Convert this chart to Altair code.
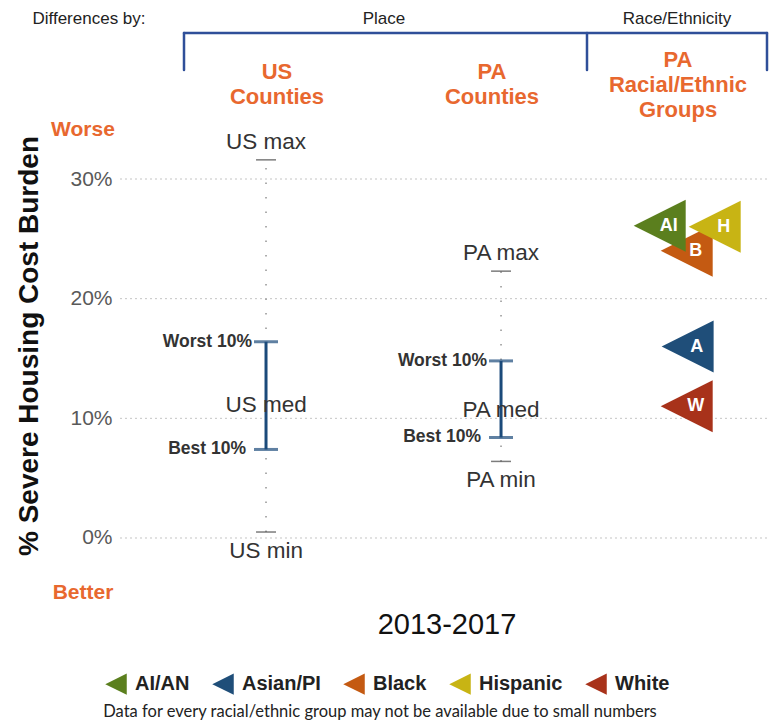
import altair as alt
import pandas as pd

# ---------------- data ----------------
place_cols = ["US", "PA"]
max_vals = [31.6, 22.3]
worst10_vals = [16.4, 14.8]
med_vals = [11.1, 10.7]
best10_vals = [7.4, 8.4]
min_vals = [0.5, 6.4]

groups = ["AI/AN", "Asian/PI", "Black", "Hispanic", "White"]
group_abbr = ["AI", "A", "B", "H", "W"]
group_vals = [26.1, 16.0, 24.0, 26.0, 11.0]
group_colors = ["#5B7F1E", "#1F4E79", "#C45A12", "#C8B414", "#A8321A"]

y_ticks = [0, 10, 20, 30]
period = "2013-2017"

# ---------------- layout ----------------
FONT = "Liberation Sans"
ORANGE = "#E8682F"
NAVY = "#1B4A7A"
BRACKET = "#2F4F99"
TRI = "M-1,0L1,-1L1,1Z"
W, H = 764, 717
col_pos = {"US": 1.0, "PA": 2.0}
race_pos = 2.79
race_nudge = {"AI/AN": -0.115, "Hispanic": 0.119, "Asian/PI": 0.004}
draw_order = ["Black", "AI/AN", "Hispanic", "Asian/PI", "White"]

X = alt.Scale(domain=[-0.0979, 3.153], nice=False, zero=False)
Y = alt.Scale(domain=[-15.627, 44.29], nice=False, zero=False)
yaxis = alt.Axis(values=y_ticks, labelExpr="datum.value + '%'", grid=False,
                 domain=False, ticks=False, title=None, offset=-112,
                 labelPadding=8, labelFontSize=21, labelColor="#595959",
                 labelFont=FONT)


def xenc(f="x"):
    return alt.X(f, type="quantitative", scale=X, axis=None)


def yenc(f):
    return alt.Y(f, type="quantitative", scale=Y, axis=yaxis)


def label(text, px, py, size, color="#222", weight="normal", align="center",
          angle=0, font=FONT, line_height=None):
    kw = dict(x=px - 8, y=py - 8, fontSize=size, color=color, fontWeight=weight,
              align=align, baseline="middle", font=font, lineBreak="\n")
    if angle:
        kw["angle"] = angle
    if line_height:
        kw["lineHeight"] = line_height
    return alt.Chart(pd.DataFrame({"t": [text]})).mark_text(**kw).encode(text="t:N")


def hline(x1, x2, yv):
    return alt.Chart(pd.DataFrame({"a": [0]})).mark_rule(
        color=BRACKET, strokeWidth=2.5, strokeCap="round").encode(
        x=alt.value(x1 - 8), x2=alt.value(x2 - 8), y=alt.value(yv - 8))


def vline(xv, y1, y2):
    return alt.Chart(pd.DataFrame({"a": [0]})).mark_rule(
        color=BRACKET, strokeWidth=2.5, strokeCap="round").encode(
        x=alt.value(xv - 8), y=alt.value(y1 - 8), y2=alt.value(y2 - 8))


# ---------------- tables ----------------
grid_df = pd.DataFrame({"v": y_ticks})
place_df = pd.DataFrame({
    "col": place_cols,
    "x": [col_pos[c] for c in place_cols],
    "max": max_vals, "w": worst10_vals, "med": med_vals,
    "b": best10_vals, "min": min_vals,
})
place_df["max_lab"] = place_df["col"] + " max"
place_df["min_lab"] = place_df["col"] + " min"
place_df["med_lab"] = place_df["col"] + " med"
place_df["w_lab"] = "Worst 10%"
place_df["b_lab"] = "Best 10%"

tri_df = pd.DataFrame({"group": groups, "abbr": group_abbr, "v": group_vals})
tri_df["x"] = [race_pos + race_nudge.get(g, 0.0) for g in groups]
tri_df["ord"] = [draw_order.index(g) for g in groups]
tri_df = tri_df.sort_values("ord").reset_index(drop=True)

# ---------------- layers ----------------
grid = alt.Chart(grid_df).mark_rule(strokeDash=[2, 3], color="#c4c4c4", strokeWidth=1).encode(
    y=yenc("v"), x=alt.value(112), x2=alt.value(762))

base = alt.Chart(place_df)
dotted = base.mark_rule(strokeDash=[1.5, 13], color="#9a9a9a", strokeWidth=1.6).encode(
    x=xenc(), y=yenc("min"), y2="max")
max_tick = base.mark_tick(orient="horizontal", size=20, thickness=1.5, color="#444").encode(
    x=xenc(), y=yenc("max"))
min_tick = base.mark_tick(orient="horizontal", size=20, thickness=1.5, color="#444").encode(
    x=xenc(), y=yenc("min"))
err = base.mark_rule(color=NAVY, strokeWidth=3).encode(x=xenc(), y=yenc("b"), y2="w")
cap_w = base.mark_tick(orient="horizontal", size=24, thickness=3, color=NAVY).encode(
    x=xenc(), y=yenc("w"))
cap_b = base.mark_tick(orient="horizontal", size=24, thickness=3, color=NAVY).encode(
    x=xenc(), y=yenc("b"))

lab_common = dict(font=FONT, fontSize=22.5, color="#333", baseline="middle")
max_lab = base.mark_text(dy=-18, **lab_common).encode(x=xenc(), y=yenc("max"), text="max_lab:N")
min_lab = base.mark_text(dy=19, **lab_common).encode(x=xenc(), y=yenc("min"), text="min_lab:N")
med_lab = base.mark_text(**lab_common).encode(x=xenc(), y=yenc("med"), text="med_lab:N")
w_lab = base.mark_text(dx=-14, align="right", font=FONT, fontSize=17.5, fontWeight="bold",
                       color="#333", baseline="middle").encode(x=xenc(), y=yenc("w"), text="w_lab:N")
b_lab = base.mark_text(dx=-20, align="right", font=FONT, fontSize=17.5, fontWeight="bold",
                       color="#333", baseline="middle").encode(x=xenc(), y=yenc("b"), text="b_lab:N")

tri = alt.Chart(tri_df).mark_point(shape=TRI, filled=True, size=2704, opacity=1,
                                   strokeWidth=0).encode(
    x=xenc(), y=yenc("v"),
    color=alt.Color("group:N", scale=alt.Scale(domain=groups, range=group_colors),
                    legend=alt.Legend(orient="none", legendX=97, legendY=665,
                                      direction="horizontal", title=None,
                                      symbolType=TRI, symbolSize=460,
                                      symbolStrokeWidth=0, symbolOpacity=1,
                                      labelFontSize=20, labelFontWeight="bold",
                                      labelFont=FONT, labelColor="#222",
                                      columnPadding=22, labelOffset=8, padding=0)),
)
tri_txt = alt.Chart(tri_df).mark_text(color="white", fontWeight="bold", fontSize=18,
                                      dx=9, font=FONT, baseline="middle").encode(
    x=xenc(), y=yenc("v"), text="abbr:N")

annot = [
    label("Differences by:", 89, 19, 17),
    label("Place", 384, 19, 17),
    label("Race/Ethnicity", 677, 19, 17),
    label("US\nCounties", 277, 72, 22, ORANGE, "bold", line_height=25),
    label("PA\nCounties", 492, 72, 22, ORANGE, "bold", line_height=25),
    label("PA\nRacial/Ethnic\nGroups", 678, 60, 22, ORANGE, "bold", line_height=25),
    label("Worse", 83, 130, 21, ORANGE, "bold"),
    label("Better", 83, 593, 21, ORANGE, "bold"),
    label("% Severe Housing Cost Burden", 30, 346, 28, "#111", "bold", angle=270),
    label(period, 447, 625, 29, "#111"),
    label("Data for every racial/ethnic group may not be available due to small numbers",
          380, 712, 16.5, "#222", font="Lato"),
]
bracket = [hline(184, 767, 33), vline(184, 33, 70), vline(587, 33, 70), vline(767, 33, 70)]

chart = alt.layer(
    grid, dotted, max_tick, min_tick, err, cap_w, cap_b,
    max_lab, min_lab, med_lab, w_lab, b_lab, tri, tri_txt,
    *bracket, *annot,
).properties(
    width=W, height=H, autosize=alt.AutoSizeParams(type="none"), padding=0,
).configure_view(stroke=None)

chart.save("out.html", embed_options={"renderer": "svg", "actions": False})
